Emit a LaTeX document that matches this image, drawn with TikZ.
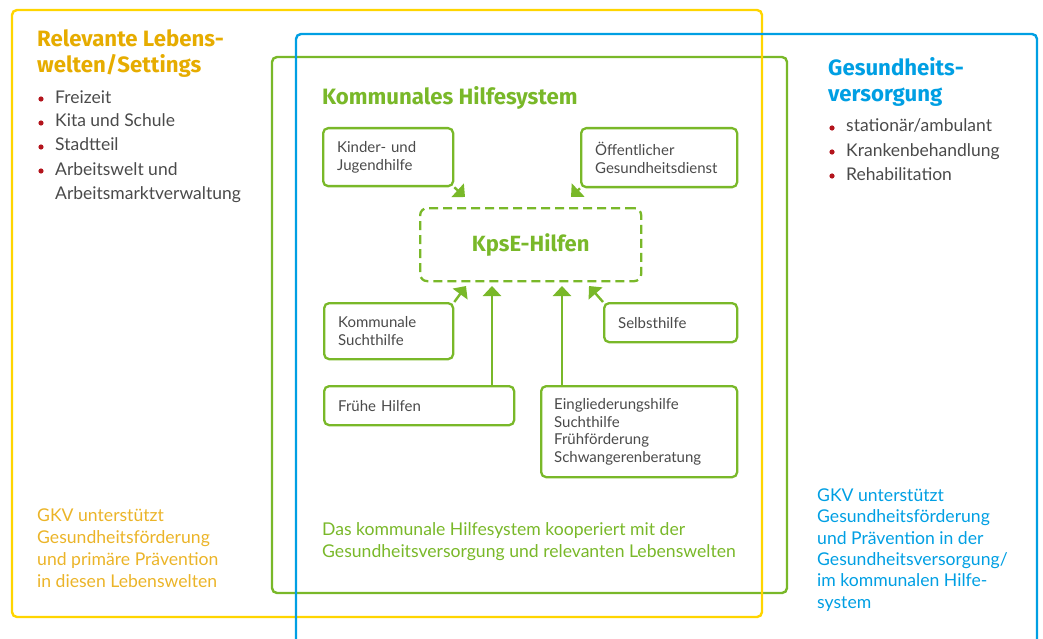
\documentclass[tikz,border=0pt]{standalone}
\usepackage{fontspec}
\setmainfont{Lato}
\newfontfamily\headfont{Fira Sans}
\usetikzlibrary{arrows.meta}
\hyphenpenalty=10000
\exhyphenpenalty=10000
\definecolor{kyellow}{HTML}{FFD500}
\definecolor{kyellowtxt}{HTML}{E6AC00}
\definecolor{kyellownote}{HTML}{EBB428}
\definecolor{kgreen}{HTML}{79B829}
\definecolor{kblue}{HTML}{009FE3}
\definecolor{kgray}{HTML}{4A4A4A}
\definecolor{kred}{HTML}{B3141C}
\begin{document}
\begin{tikzpicture}[x=1pt,y=-1pt,
  frame/.style={line width=2.4pt, rounded corners=5pt},
  head/.style={font=\headfont\bfseries\fontsize{22.2}{26}\selectfont, anchor=base west, inner sep=0pt, align=left},
  list/.style={font=\fontsize{17.5}{24}\selectfont, text=kgray, anchor=base west, inner sep=0pt, align=left},
  note/.style={font=\fontsize{17.6}{22}\selectfont, anchor=base west, inner sep=0pt, align=left},
  hbox/.style={draw=kgreen, line width=2.3pt, rounded corners=5pt, anchor=north west, inner xsep=14pt, inner ysep=0pt, align=left, text=kgray, font=\fontsize{15}{17.5}\selectfont},
  arr/.style={draw=kgreen, line width=2.4pt, -{Triangle[length=10pt,width=18pt]}},
  dot/.style={fill=kred}
]
\useasboundingbox (0,0) rectangle (1043,639);
% frames
\draw[frame, kgreen] (272,57) rectangle (787,593);
\draw[frame, kyellow] (12,10) rectangle (762,617);
\draw[frame, kblue] (296,660) -- (296,34) -- (1037,34) -- (1037,660);

% left column (anchor = baseline of the last line)
\node[head, text=kyellowtxt] (lwhead) at (37,73) {Relevante Lebens-\\welten/Settings};
\node[list] (lwlist) at (55,199) {Freizeit\\Kita und Schule\\Stadtteil\\Arbeitswelt und\\Arbeitsmarktverwaltung};
\foreach \yy in {99,123,147,171} \fill[dot] (41,\yy) circle (2.6pt);
\node[note, text=kyellownote] (lwnote) at (37,587) {GKV unterstützt\\Gesundheitsförderung\\und primäre Prävention\\in diesen Lebenswelten};

% right column
\node[head, text=kblue] (gvhead) at (828,102) {Gesundheits-\\versorgung};
\node[list] (gvlist) at (846,180) {stationär/ambulant\\Krankenbehandlung\\Rehabilitation};
\foreach \yy in {128,152,176} \fill[dot] (832,\yy) circle (2.6pt);
\node[note, text=kblue, font=\fontsize{17.6}{21.3}\selectfont] (gvnote) at (817,608) {GKV unterstützt\\Gesundheitsförderung\\und Prävention in der\\Gesundheitsversorgung/\\im kommunalen Hilfe-\\system};

% middle
\node[head, text=kgreen] (khhead) at (322,105) {Kommunales Hilfesystem};
\node[note, text=kgreen] (khnote) at (322,557) {Das kommunale Hilfesystem kooperiert mit der\\Gesundheitsversorgung und relevanten Lebenswelten};

\node[hbox, text width=102pt, minimum height=58pt] (kjh) at (322,127) {Kinder- und\\Jugendhilfe};
\node[hbox, text width=128pt, minimum height=59pt] (oegd) at (580,127) {Öffentlicher\\Gesundheitsdienst};
\node[draw=kgreen, line width=2.3pt, dash pattern=on 9pt off 5pt, rounded corners=7pt, anchor=north west, minimum width=221pt, minimum height=73pt, text=kgreen, font=\headfont\bfseries\fontsize{22}{26}\selectfont] (kpse) at (419,207) {KpsE-Hilfen};
\node[hbox, text width=101pt, minimum height=56pt] (ksh) at (323,302) {Kommunale\\Suchthilfe};
\node[hbox, text width=162pt, minimum height=39pt] (fh) at (323,385) {Frühe Hilfen};
\node[hbox, text width=105pt, minimum height=39pt] (sh) at (603,302) {Selbsthilfe};
\node[hbox, minimum height=91pt, inner xsep=13pt, text width=170pt] (eh) at (540,385) {Eingliederungshilfe\\Suchthilfe\\Frühförderung\\Schwangerenberatung};

\coordinate (t1) at (465,197);
\coordinate (t2) at (571,197);
\coordinate (t3) at (466,286);
\coordinate (t4) at (492,286);
\coordinate (t5) at (562,286);
\coordinate (t6) at (589,286);
\draw[arr] (kjh.south east) -- (t1);
\draw[arr] (oegd.south west) -- (t2);
\draw[arr] (ksh.north east) -- (t3);
\draw[arr] (fh.north -| t4) -- (t4);
\draw[arr] (eh.north -| t5) -- (t5);
\draw[arr] (sh.north west) -- (t6);
\end{tikzpicture}
\end{document}
